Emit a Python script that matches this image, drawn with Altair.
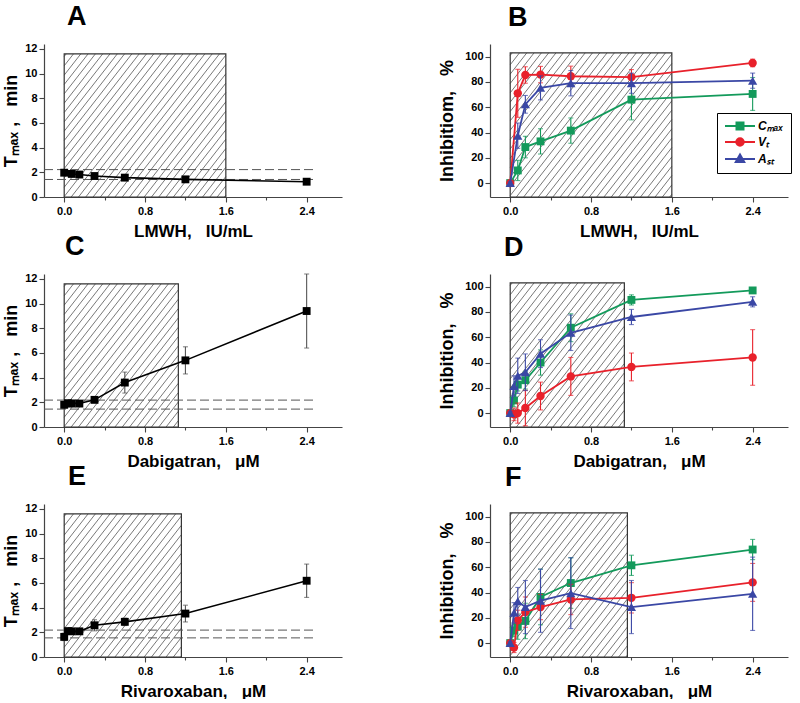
import math
import altair as alt
import pandas as pd

FONT = "Liberation Sans"

# ---------------- data ----------------
x_lmwh = [0, 0.075, 0.15, 0.3, 0.6, 1.2, 2.4]
x_dab = [0, 0.0375, 0.075, 0.15, 0.3, 0.6, 1.2, 2.4]
x_riv = [0, 0.0375, 0.075, 0.15, 0.3, 0.6, 1.2, 2.4]

# T_max, min
tmax_lmwh = [1.97, 1.87, 1.82, 1.70, 1.57, 1.43, 1.24]
tmax_lmwh_err = [0.12, 0.10, 0.10, 0.10, 0.10, 0.10, 0.15]
tmax_dab = [1.80, 1.93, 1.90, 1.90, 2.20, 3.60, 5.40, 9.40]
tmax_dab_err = [0.25, 0.15, 0.15, 0.15, 0.20, 0.85, 1.10, 3.00]
tmax_riv = [1.63, 2.10, 2.08, 2.08, 2.57, 2.85, 3.52, 6.18]
tmax_riv_err = [0.30, 0.15, 0.15, 0.15, 0.45, 0.30, 0.68, 1.35]

# normal range (dashed lines)
norm_lmwh = [2.22, 1.42]
norm_dab = [2.18, 1.45]
norm_riv = [2.18, 1.55]

# therapeutic range (hatched box), x extent
ther_lmwh = [0, 1.6]
ther_dab = [0, 1.13]
ther_riv = [0, 1.16]

# Inhibition, %
cmax_lmwh = [0, 10, 28.5, 33, 41.5, 66, 70.5]
cmax_lmwh_err = [1, 8, 8.5, 10, 10, 16, 13]
vt_lmwh = [0, 71, 85.5, 85.8, 84.5, 83.8, 95]
vt_lmwh_err = [1, 19, 6.5, 6.5, 8, 6, 3]
ast_lmwh = [0, 37.5, 62.3, 75.3, 79, 79, 81]
ast_lmwh_err = [1, 10, 7, 9.5, 10, 8, 6]

cmax_dab = [0, 10, 22.5, 26, 40, 67.5, 89.5, 97]
cmax_dab_err = [1, 5, 5, 7, 10, 11, 4, 2]
vt_dab = [0, -1, 0, 4, 13.5, 29, 36.5, 44]
vt_dab_err = [1, 5, 8, 14, 11, 15, 11, 22]
ast_dab = [0, 21.5, 29.5, 32.3, 47, 63.5, 76, 88]
ast_dab_err = [1, 8, 14, 14.5, 11, 14, 6, 4]

cmax_riv = [0, 10, 13, 17.5, 36.5, 47.5, 61.5, 74]
cmax_riv_err = [1, 5, 10, 14, 22, 20, 8, 8]
vt_riv = [0, -3.5, 18, 24.5, 28.5, 34.5, 35.8, 48]
vt_riv_err = [1, 4, 8, 12, 10, 12, 12, 15]
ast_riv = [0, 24, 33, 28.5, 33.5, 39.5, 28.5, 39]
ast_riv_err = [1, 8, 11, 21, 25, 28, 21, 29]

series_names = ["C\u2098\u2090\u2093", "V\u209c", "A\u209b\u209c"]
series_colors = ["#139a5b", "#e8212b", "#3a47a5"]
series_shapes = ["square", "circle", "triangle-up"]
series_sizes = [62, 70, 85]

# ---------------- layout constants ----------------
XDOM = [-0.2, 2.75]
W, H = 298, 153
YDOM_T = [0, 12.4]
YDOM_I = [-11, 110]


def hatch_df(x0, x1, y0, y1, ydom):
    sx = W / (XDOM[1] - XDOM[0])
    sy = H / (ydom[1] - ydom[0])
    wp = (x1 - x0) * sx
    hp = (y1 - y0) * sy
    m = math.tan(math.radians(52))
    step = 7.3
    rows = []
    k = -hp / m + 2
    while k < wp:
        vmin = max(0.0, -k * m)
        vmax = min(hp, (wp - k) * m)
        if vmax > vmin:
            rows.append(dict(hx=x0 + (k + vmin / m) / sx, hy=y0 + vmin / sy,
                             hx2=x0 + (k + vmax / m) / sx, hy2=y0 + vmax / sy))
        k += step
    return pd.DataFrame(rows)


MAJOR = "abs(datum.value/0.8 - round(datum.value/0.8)) < 0.01"


def X(field, title):
    return alt.X(field, type="quantitative",
                 scale=alt.Scale(domain=XDOM, nice=False, zero=False),
                 axis=alt.Axis(title=title, values=[0, 0.4, 0.8, 1.2, 1.6, 2.0, 2.4],
                               labelExpr=MAJOR + " ? format(datum.value, '.1f') : ''",
                               tickSize={"condition": {"test": MAJOR, "value": 5}, "value": 3},
                               titlePadding=7, labelPadding=3))


def Y(field, title, ydom, vals, tp):
    return alt.Y(field, type="quantitative",
                 scale=alt.Scale(domain=ydom, nice=False, zero=False),
                 axis=alt.Axis(title=title, values=vals, titlePadding=tp, labelPadding=2))


def panel(letter, dx, xs, xtitle, ytitle, ydom, yvals, ytp, ther, series, dashed=None, legend=False):
    layers = []
    # hatched box
    y_top = 11.6 if ydom == YDOM_T else 103
    box = pd.DataFrame([dict(x=ther[0], x2=ther[1], y=ydom[0], y2=y_top)])
    hd = hatch_df(ther[0], ther[1], ydom[0], y_top, ydom)
    layers.append(alt.Chart(hd).mark_rule(color="#555", strokeWidth=0.8).encode(
        x=X("hx", xtitle), y=Y("hy", ytitle, ydom, yvals, ytp), x2="hx2", y2="hy2"))
    layers.append(alt.Chart(box).mark_rect(fill="white", fillOpacity=0, stroke="#333",
                                           strokeWidth=1.2).encode(
        x=X("x", xtitle), y=Y("y", ytitle, ydom, yvals, ytp), x2="x2", y2="y2"))
    if dashed is not None:
        dd = pd.DataFrame([dict(x=-0.2, x2=2.5, y=v) for v in dashed])
        layers.append(alt.Chart(dd).mark_rule(color="#555", strokeWidth=1,
                                              strokeDash=[9, 4]).encode(
            x=X("x", xtitle), x2="x2", y=Y("y", ytitle, ydom, yvals, ytp)))
    for s in series:
        name, ys, errs, color, shape, ecolor, size, lw = s
        df = pd.DataFrame(dict(x=xs, y=ys, lo=[a - b for a, b in zip(ys, errs)],
                               hi=[a + b for a, b in zip(ys, errs)]))
        caps = pd.DataFrame(dict(x=xs * 2, y=list(df["lo"]) + list(df["hi"])))
        layers.append(alt.Chart(df).mark_rule(color=ecolor, strokeWidth=1.1).encode(
            x=X("x", xtitle), y=Y("lo", ytitle, ydom, yvals, ytp), y2="hi"))
        layers.append(alt.Chart(caps).mark_tick(color=ecolor, orient="horizontal", size=5,
                                                thickness=1.1).encode(
            x=X("x", xtitle), y=Y("y", ytitle, ydom, yvals, ytp)))
        layers.append(alt.Chart(df).mark_line(color=color, strokeWidth=lw).encode(
            x=X("x", xtitle), y=Y("y", ytitle, ydom, yvals, ytp)))
        layers.append(alt.Chart(df).mark_point(shape=shape, filled=True, color=color,
                                               size=size, opacity=1).encode(
            x=X("x", xtitle), y=Y("y", ytitle, ydom, yvals, ytp)))
    if legend:
        ld = pd.DataFrame(dict(x=[0.0] * 3, y=[0.0] * 3, s=series_names))
        paths = [
            "M-1,0H5M1.3,-0.7H2.7V0.7H1.3Z",
            "M-1,0H5M2.75,0A0.75,0.75,0,1,1,1.25,0A0.75,0.75,0,1,1,2.75,0Z",
            "M-1,0H5M1.15,0.6L2.85,0.6L2,-0.9Z",
        ]
        lg = alt.Legend(title=None, orient="none", legendX=227, legendY=69,
                        strokeColor="black", padding=7,
                        symbolSize=100, symbolStrokeWidth=2, labelOffset=22,
                        rowPadding=0, labelFont=FONT, labelFontSize=12,
                        labelFontWeight="bold", labelFontStyle="italic",
                        fillColor="white")
        layers.append(alt.Chart(ld).transform_filter("datum.x > 1").mark_point(
            filled=True, opacity=1).encode(
            x=X("x", xtitle), y=Y("y", ytitle, ydom, yvals, ytp),
            fill=alt.Fill("s:N", scale=alt.Scale(domain=series_names, range=series_colors), legend=lg),
            stroke=alt.Stroke("s:N", scale=alt.Scale(domain=series_names, range=series_colors), legend=lg),
            shape=alt.Shape("s:N", scale=alt.Scale(domain=series_names, range=paths), legend=lg),
        ))
    return alt.layer(*layers).properties(
        width=W, height=H,
        title=alt.TitleParams(text=letter, anchor="start", frame="group", dx=dx, offset=12,
                              font=FONT, fontSize=27, fontWeight="bold", color="black"))


def tser(ys, errs):
    return [("T", ys, errs, "black", "square", "#555", 62, 1.6)]


def iser(c, ce, v, ve, a, ae):
    vals = [(c, ce), (v, ve), (a, ae)]
    out = []
    for (ys, es), n, col, sh, sz in zip(vals, series_names, series_colors, series_shapes,
                                        series_sizes):
        out.append((n, ys, es, col, sh, col, sz, 1.8))
    return out


TT = "T\u2098\u2090\u2093 ,\u00a0\u00a0\u00a0min"
T_VALS = [0, 2, 4, 6, 8, 10, 12]
I_VALS = [0, 20, 40, 60, 80, 100]
XT_L = "LMWH,\u00a0\u00a0\u00a0IU/mL"
XT_D = "Dabigatran,\u00a0\u00a0\u00a0\u03bcM"
XT_R = "Rivaroxaban,\u00a0\u00a0\u00a0\u03bcM"

pA = panel("A", 23, x_lmwh, XT_L, TT, YDOM_T, T_VALS, 4, ther_lmwh,
           tser(tmax_lmwh, tmax_lmwh_err), dashed=norm_lmwh)
pB = panel("B", 18, x_lmwh, XT_L, "Inhibitiom,\u00a0\u00a0\u00a0%", YDOM_I, I_VALS, 8, ther_lmwh,
           iser(cmax_lmwh, cmax_lmwh_err, vt_lmwh, vt_lmwh_err, ast_lmwh, ast_lmwh_err),
           legend=True)
pC = panel("C", 21, x_dab, XT_D, TT, YDOM_T, T_VALS, 4, ther_dab,
           tser(tmax_dab, tmax_dab_err), dashed=norm_dab)
pD = panel("D", 14, x_dab, XT_D, "Inhibition,\u00a0\u00a0\u00a0%", YDOM_I, I_VALS, 8, ther_dab,
           iser(cmax_dab, cmax_dab_err, vt_dab, vt_dab_err, ast_dab, ast_dab_err))
pE = panel("E", 24, x_riv, XT_R, TT, YDOM_T, T_VALS, 4, ther_riv,
           tser(tmax_riv, tmax_riv_err), dashed=norm_riv)
pF = panel("F", 15, x_riv, XT_R, "Inhibition,\u00a0\u00a0\u00a0%", YDOM_I, I_VALS, 8, ther_riv,
           iser(cmax_riv, cmax_riv_err, vt_riv, vt_riv_err, ast_riv, ast_riv_err))

RES = dict(fill="independent", stroke="independent", shape="independent")
row1 = alt.hconcat(pA, pB, spacing=96).resolve_scale(**RES)
row2 = alt.hconcat(pC, pD, spacing=96).resolve_scale(**RES)
row3 = alt.hconcat(pE, pF, spacing=96).resolve_scale(**RES)

chart = alt.vconcat(row1, row2, row3, spacing=-7).resolve_scale(**RES).properties(
    padding={"left": 2, "top": 2, "right": 0, "bottom": 0}
).configure_view(stroke=None).configure_axis(
    grid=False, domainColor="#444", tickColor="#444", domainWidth=1.2, tickWidth=1.1,
    labelFont=FONT, labelFontSize=11, labelFontWeight="bold", labelColor="black",
    titleFont=FONT, titleFontSize=17, titleFontWeight="bold", titleColor="black",
).configure_axisY(titleFontSize=18)

chart.save("out.html", embed_options={"renderer": "svg", "actions": False})
